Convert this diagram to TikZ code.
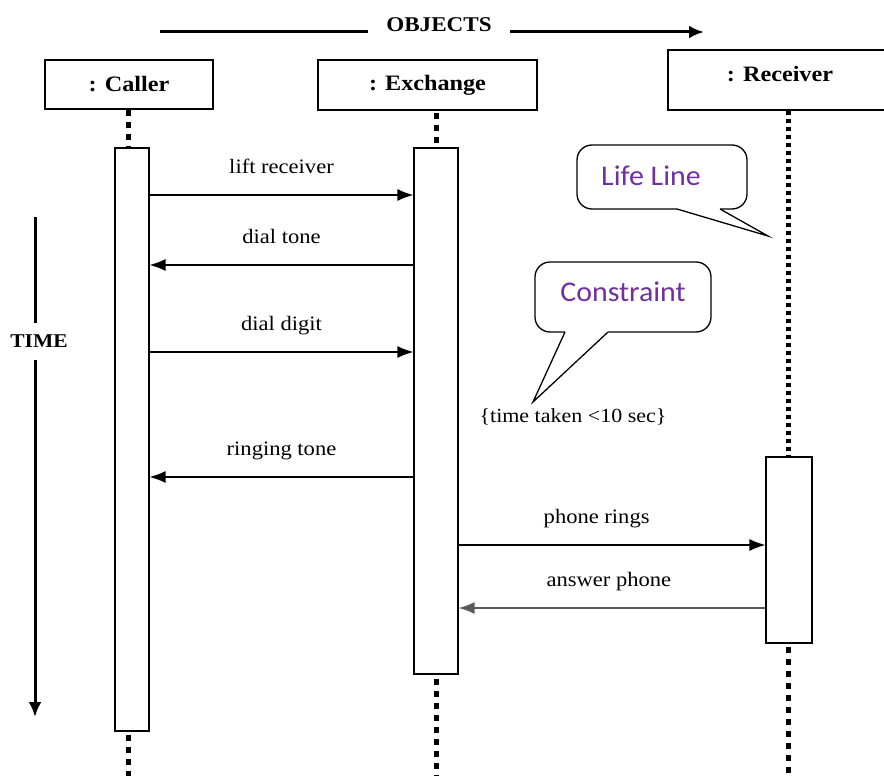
\documentclass[tikz,border=0pt]{standalone}
\usepackage{fontspec}
\setmainfont{Liberation Serif}[FakeStretch=1.1]
\newfontfamily\calloutfont{Carlito}[FakeStretch=1.05]
\usetikzlibrary{arrows.meta}
\definecolor{calloutpurple}{HTML}{7030A0}
\definecolor{replygray}{HTML}{5A5A5A}

\tikzset{
  objbox/.style={draw, line width=1.4pt, inner sep=0pt,
    font=\fontsize{22}{26}\selectfont\bfseries},
  actbox/.style={draw, line width=1.2pt, fill=white, inner sep=0pt},
  msg/.style={line width=1.3pt, -{Latex[length=16pt,width=12pt]}},
  replymsg/.style={msg, draw=replygray, fill=replygray, line width=1.6pt},
  lbl/.style={font=\fontsize{20.5}{23}\selectfont, text height=14pt,
    text depth=5pt, inner sep=0pt, above=16pt},
  lifedots/.style={line width=5pt, dash pattern=on 6pt off 6pt},
  densedots/.style={line width=5pt, dash pattern=on 4pt off 4pt},
  axisline/.style={line width=3pt},
  axisarrow/.style={axisline, -{Latex[length=15pt,width=13pt]}},
  axislbl/.style={font=\fontsize{21}{24}\selectfont\bfseries, inner sep=0pt},
  callbox/.style={draw, line width=1.3pt, rounded corners=15pt, fill=white, inner sep=0pt},
  calltail/.style={line width=1.3pt, line join=miter},
  calltext/.style={font=\calloutfont\fontsize{28.5}{31}\selectfont, text=calloutpurple, inner sep=0pt},
  notetext/.style={font=\fontsize{20}{23}\selectfont, inner sep=0pt},
}

\begin{document}
\begin{tikzpicture}[x=1pt, y=-1pt]
\useasboundingbox (0,0) rectangle (884,776);

% ---- object heads
\node[objbox, minimum width=168pt, minimum height=49pt] (caller) at (129,84.5) {: Caller};
\node[objbox, minimum width=219pt, minimum height=50pt] (exch) at (427.5,85) {: Exchange};
\node[objbox, minimum width=224pt, minimum height=60pt, text depth=12pt] (recv) at (780,80) {: Receiver};

% ---- activation bars
\node[actbox, minimum width=34pt, minimum height=583pt] (ca) at (132,439.5) {};
\node[actbox, minimum width=44pt, minimum height=526pt] (ea) at (436,411) {};
\node[actbox, minimum width=46pt, minimum height=186pt] (ra) at (789,550) {};

% ---- ends of the lifelines at the bottom edge
\coordinate (cend) at (128,776);
\coordinate (eend) at (436,776);
\coordinate (rend) at (788,776);

% ---- lifelines
\draw[lifedots] (cend |- caller.south) -- (cend |- ca.north);
\draw[lifedots, dash phase=-3pt] (cend |- ca.south) -- (cend);
\draw[lifedots, dash phase=-2pt] (ea.north |- exch.south) -- (ea.north);
\draw[lifedots, dash phase=-4pt] (ea.south) -- (eend);
\draw[densedots] (rend |- recv.south) -- (rend |- ra.north);
\draw[lifedots, dash phase=-3pt] (rend |- ra.south) -- (rend);

% ---- messages
\draw[msg] (ca.east |- 0,195) -- node[lbl] {lift receiver} (ea.west |- 0,195);
\draw[msg] (ea.west |- 0,265) -- node[lbl] {dial tone} (ca.east |- 0,265);
\draw[msg] (ca.east |- 0,352) -- node[lbl] {dial digit} (ea.west |- 0,352);
\draw[msg] (ea.west |- 0,477) -- node[lbl] {ringing tone} (ca.east |- 0,477);
\draw[msg] (ea.east |- 0,545) -- node[lbl, pos=0.45] {phone rings} (ra.west |- 0,545);
\draw[replymsg] (ra.west |- 0,608) -- node[lbl, pos=0.51, text=black] {answer phone} (ea.east |- 0,608);

% ---- OBJECTS axis
\node[axislbl, minimum width=142pt, minimum height=20pt] (objects) at (439,25) {OBJECTS};
\coordinate (oleft) at (160,32);
\coordinate (oright) at (704,32);
\draw[axisline] (oleft) -- (oleft -| objects.west);
\draw[axisarrow] (oright -| objects.east) -- (oright);

% ---- TIME axis
\node[axislbl, font=\fontsize{19.5}{22}\selectfont\bfseries, minimum height=37pt] (time) at (39,341.5) {TIME};
\coordinate (ttop) at (35,217);
\coordinate (tbot) at (35,717);
\draw[axisline] (ttop) -- (ttop |- time.north);
\draw[axisarrow] (tbot |- time.south) -- (tbot);

% ---- "Life Line" callout
\node[callbox, minimum width=170pt, minimum height=64pt] (llbox) at (662,177) {};
\coordinate (lltip) at (768,236);
\coordinate (llbaseA) at (677,209);
\coordinate (llbaseB) at (720,209);
\fill[white] (677,207.3) -- (llbaseA) -- (lltip) -- (llbaseB) -- (720,207.3) -- cycle;
\draw[calltail] (llbaseA) -- (lltip) -- (llbaseB);
\node[calltext] (lltext) at (651,176) {Life Line};

% ---- "Constraint" callout
\node[callbox, minimum width=176pt, minimum height=70pt] (cbox) at (623,297) {};
\coordinate (ctip) at (533,402);
\coordinate (cbaseA) at (565,332);
\coordinate (cbaseB) at (608,332);
\fill[white] (565,330.3) -- (cbaseA) -- (ctip) -- (cbaseB) -- (608,330.3) -- cycle;
\draw[calltail] (cbaseA) -- (ctip) -- (cbaseB);
\node[calltext] (ctext) at (623,292) {Constraint};

% ---- constraint note
\node[notetext] (note) at (573,417) {\{time taken <10 sec\}};
\end{tikzpicture}
\end{document}
